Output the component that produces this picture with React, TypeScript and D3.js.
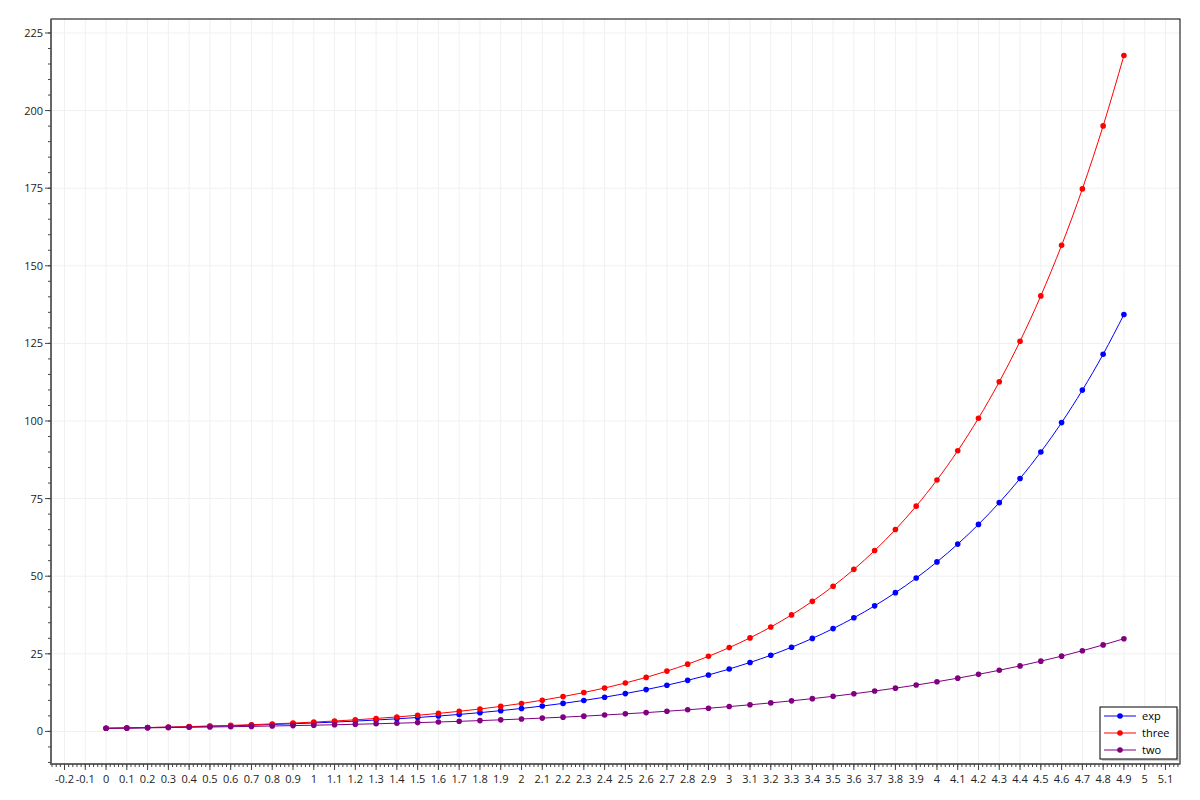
import * as d3 from "d3";

const xs = d3.range(50).map((i) => +(i / 10).toFixed(1));
const expVals = [1, 1.11, 1.22, 1.35, 1.49, 1.65, 1.82, 2.01, 2.23, 2.46, 2.72, 3.0, 3.32, 3.67, 4.06, 4.48, 4.95, 5.47, 6.05, 6.69, 7.39, 8.17, 9.03, 9.97, 11.02, 12.18, 13.46, 14.88, 16.44, 18.17, 20.09, 22.2, 24.53, 27.11, 29.96, 33.12, 36.6, 40.45, 44.7, 49.4, 54.6, 60.34, 66.69, 73.7, 81.45, 90.02, 99.48, 109.95, 121.51, 134.29];
const threeVals = [1, 1.12, 1.25, 1.39, 1.55, 1.73, 1.93, 2.16, 2.41, 2.69, 3, 3.35, 3.74, 4.17, 4.66, 5.2, 5.8, 6.47, 7.22, 8.06, 9, 10.05, 11.21, 12.51, 13.97, 15.59, 17.4, 19.42, 21.67, 24.19, 27, 30.13, 33.63, 37.54, 41.9, 46.77, 52.2, 58.26, 65.02, 72.57, 81, 90.41, 100.9, 112.62, 125.7, 140.3, 156.59, 174.77, 195.07, 217.72];
const twoVals = [1, 1.07, 1.15, 1.23, 1.32, 1.41, 1.52, 1.62, 1.74, 1.87, 2, 2.14, 2.3, 2.46, 2.64, 2.83, 3.03, 3.25, 3.48, 3.73, 4, 4.29, 4.59, 4.92, 5.28, 5.66, 6.06, 6.5, 6.96, 7.46, 8, 8.57, 9.19, 9.85, 10.56, 11.31, 12.13, 13, 13.93, 14.93, 16, 17.15, 18.38, 19.7, 21.11, 22.63, 24.25, 25.99, 27.86, 29.86];

const series = [
  { name: "exp", color: "#0000ff", values: expVals },
  { name: "three", color: "#ff0000", values: threeVals },
  { name: "two", color: "#800080", values: twoVals },
];

const W = 1200, H = 800;
const L = 51, R = 1180, T = 19, B = 764;
const font = "'Open Sans', 'Noto Sans', sans-serif";

export default function App() {
  const x = d3.scaleLinear().domain([-0.265, 5.17]).range([L, R]);
  const y = d3.scaleLinear().domain([-10.5, 229.5]).range([B, T]);
  const xMajor = d3.range(-2, 52).map((i) => +(i / 10).toFixed(1));
  const xMinor = d3.range(-13, 259).map((i) => i / 50);
  const yMajor = d3.range(0, 226, 25);
  const yMinor = d3.range(-10, 230, 5);
  const line = d3.line<number>().x((_, i) => x(xs[i])).y((d) => y(d)).curve(d3.curveMonotoneX);

  return (
    <svg width={W} height={H} style={{ position: "absolute", left: 0, top: 0, background: "#fff" }} fontFamily={font}>
      {xMajor.map((v) => (
        <line key={"gx" + v} x1={x(v)} x2={x(v)} y1={T} y2={B} stroke="#f0f0f0" />
      ))}
      {yMajor.map((v) => (
        <line key={"gy" + v} x1={L} x2={R} y1={y(v)} y2={y(v)} stroke="#f0f0f0" />
      ))}
      <rect x={L} y={T} width={R - L} height={B - T} fill="none" stroke="#000" />
      <line x1={L} x2={L} y1={T} y2={B + 1} stroke="#666" strokeWidth={2} />
      <line x1={L} x2={R} y1={B} y2={B} stroke="#666" strokeWidth={2} />
      {xMinor.filter((v) => x(v) >= L && x(v) <= R).map((v, i) => (
        <line key={"xm" + i} x1={x(v)} x2={x(v)} y1={B} y2={B + 3} stroke="#444" />
      ))}
      {xMajor.map((v) => (
        <g key={"xt" + v}>
          <line x1={x(v)} x2={x(v)} y1={B} y2={B + 6} stroke="#444" />
          <text x={x(v)} y={B + 19} fontSize={11} textAnchor="middle" fill="#222">{v}</text>
        </g>
      ))}
      {yMinor.map((v) => (
        <line key={"ym" + v} x1={L - 3} x2={L} y1={y(v)} y2={y(v)} stroke="#444" />
      ))}
      {yMajor.map((v) => (
        <g key={"yt" + v}>
          <line x1={L - 6} x2={L} y1={y(v)} y2={y(v)} stroke="#444" />
          <text x={L - 8} y={y(v) + 4} fontSize={11} textAnchor="end" fill="#222">{v}</text>
        </g>
      ))}
      {series.map((s) => (
        <g key={s.name}>
          <path d={line(s.values) ?? ""} fill="none" stroke={s.color} strokeWidth={1} />
          {s.values.map((v, i) => (
            <circle key={i} cx={x(xs[i])} cy={y(v)} r={2.8} fill={s.color} />
          ))}
        </g>
      ))}
      <g transform="translate(1100,707)">
        <rect x={2} y={2} width={77} height={52} fill="#ccc" />
        <rect x={0} y={0} width={77} height={52} fill="#fff" stroke="#000" />
        {series.map((s, i) => (
          <g key={s.name} transform={`translate(0,${9 + i * 17})`}>
            <line x1={4} x2={36} y1={0} y2={0} stroke={s.color} />
            <circle cx={20} cy={0} r={2.8} fill={s.color} />
            <text x={42} y={4} fontSize={11} fill="#000">{s.name}</text>
          </g>
        ))}
      </g>
    </svg>
  );
}
